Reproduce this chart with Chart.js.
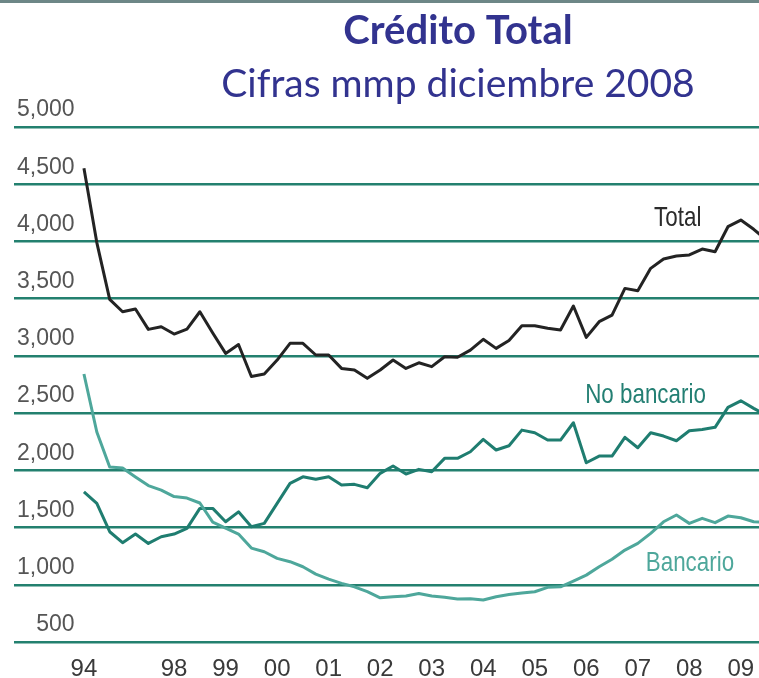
<!DOCTYPE html>
<html>
<head>
<meta charset="utf-8">
<script src="https://cdn.jsdelivr.net/npm/chart.js@4"></script>
<style>
  html, body { margin: 0; padding: 0; background: #fff; }
</style>
</head>
<body>
<canvas id="chart" width="759" height="678"></canvas>
<script>
// x is a quarter index: 0 = 94, 7 = 98, then one year every 4 quarters
const yearLabels = ['94', '98', '99', '00', '01', '02', '03', '04', '05', '06', '07', '08', '09'];
const yearTicks = [0, 7, 11, 15, 19, 23, 27, 31, 35, 39, 43, 47, 51];
const yTicks = [500, 1000, 1500, 2000, 2500, 3000, 3500, 4000, 4500, 5000];

// miles de millones de pesos, dic 2008
const total = [
  4640, 3990, 3494, 3386, 3410, 3232, 3255, 3191, 3235, 3386,
  3200, 3022, 3100, 2820, 2842, 2964, 3110, 3110, 3008, 3008,
  2891, 2877, 2804, 2877, 2964, 2891, 2940, 2906, 2993, 2988,
  3051, 3145, 3066, 3135, 3264, 3264, 3241, 3226, 3436, 3162,
  3299, 3357, 3590, 3570, 3765, 3847, 3873, 3882, 3934, 3910,
  4129, 4187, 4106, 4010
];
const noBancario = [
  1813, 1712, 1464, 1368, 1444, 1362, 1420, 1444, 1493, 1668,
  1668, 1551, 1638, 1508, 1537, 1712, 1887, 1944, 1922, 1944,
  1872, 1878, 1848, 1974, 2038, 1968, 2009, 1988, 2105, 2105,
  2163, 2271, 2178, 2215, 2352, 2329, 2265, 2265, 2416, 2067,
  2125, 2125, 2289, 2198, 2329, 2300, 2259, 2346, 2358, 2376,
  2551, 2608, 2542, 2480
];
const bancario = [
  2842, 2335, 2029, 2020, 1942, 1867, 1828, 1771, 1758, 1715,
  1548, 1496, 1444, 1321, 1289, 1231, 1202, 1158, 1094, 1050,
  1013, 983, 940, 887, 896, 902, 925, 902, 891, 876,
  878, 867, 896, 915, 928, 940, 978, 983, 1033, 1085,
  1158, 1223, 1304, 1362, 1450, 1551, 1610, 1537, 1581, 1543,
  1601, 1586, 1551, 1545
];

const toPoints = arr => arr.map((v, i) => ({ x: i, y: v }));

// series names written next to their lines (x = quarter, y = value)
const seriesNotes = [
  { text: 'Total', x: 46.1, y: 4205, color: '#2b2b2b' },
  { text: 'No bancario', x: 43.6, y: 2658, color: '#237f73' },
  { text: 'Bancario', x: 47.05, y: 1190, color: '#4ea79b' }
];

const sans = '"Liberation Sans", Arial, sans-serif';

const decor = {
  id: 'decor',
  beforeDraw(chart) {
    const ctx = chart.ctx;
    ctx.save();
    ctx.fillStyle = '#6d8787';
    ctx.fillRect(0, 0, chart.width, 3);
    ctx.restore();
  },
  afterDatasetsDraw(chart) {
    const ctx = chart.ctx;
    const xs = chart.scales.x, ys = chart.scales.y;
    ctx.save();
    ctx.textAlign = 'center';
    ctx.textBaseline = 'middle';
    ctx.fillStyle = '#32338f';
    ctx.font = 'bold 40px Lato, "Open Sans", sans-serif';
    ctx.fillText('Crédito Total', 458, 31);
    ctx.font = '39px Lato, "Open Sans", sans-serif';
    ctx.fillText('Cifras mmp diciembre 2008', 458, 84);

    // narrow look of the original labels
    ctx.font = '28px ' + sans;
    seriesNotes.forEach(n => {
      const px = xs.getPixelForValue(n.x), py = ys.getPixelForValue(n.y);
      ctx.save();
      ctx.translate(px, py);
      ctx.scale(0.8, 1);
      ctx.fillStyle = n.color;
      ctx.fillText(n.text, 0, 0);
      ctx.restore();
    });
    ctx.restore();
  }
};

new Chart(document.getElementById('chart'), {
  type: 'line',
  data: {
    datasets: [
      { label: 'Bancario', data: toPoints(bancario), borderColor: '#4ea79b', borderWidth: 3 },
      { label: 'No bancario', data: toPoints(noBancario), borderColor: '#1f7d70', borderWidth: 3 },
      { label: 'Total', data: toPoints(total), borderColor: '#232323', borderWidth: 3 }
    ]
  },
  options: {
    responsive: false,
    animation: false,
    events: [],
    elements: { point: { radius: 0 }, line: { tension: 0, borderJoinStyle: 'round' } },
    layout: { autoPadding: false, padding: { left: 8, right: 0, top: 127, bottom: -18 } },
    plugins: { legend: { display: false }, tooltip: { enabled: false } },
    scales: {
      x: {
        type: 'linear',
        min: -5.43,
        max: 52.41,
        grid: { display: false, drawTicks: false },
        border: { display: false },
        afterBuildTicks: scale => { scale.ticks = yearTicks.map(v => ({ value: v })); },
        ticks: {
          autoSkip: false,
          maxRotation: 0,
          padding: 2,
          color: '#3a3a3a',
          font: { family: sans, size: 24, lineHeight: 2.08 },
          callback: v => yearLabels[yearTicks.indexOf(v)]
        }
      },
      y: {
        min: 500,
        max: 5000,
        afterBuildTicks: scale => { scale.ticks = yTicks.map(v => ({ value: v })); },
        grid: { color: '#23806f', lineWidth: 2.5, drawTicks: false },
        border: { display: false },
        ticks: {
          mirror: true,
          crossAlign: 'far',
          padding: 3,
          labelOffset: -17,
          color: '#555555',
          font: { family: sans, size: 23 },
          callback: v => v.toLocaleString('en-US')
        }
      }
    }
  },
  plugins: [decor]
});
</script>
</body>
</html>
